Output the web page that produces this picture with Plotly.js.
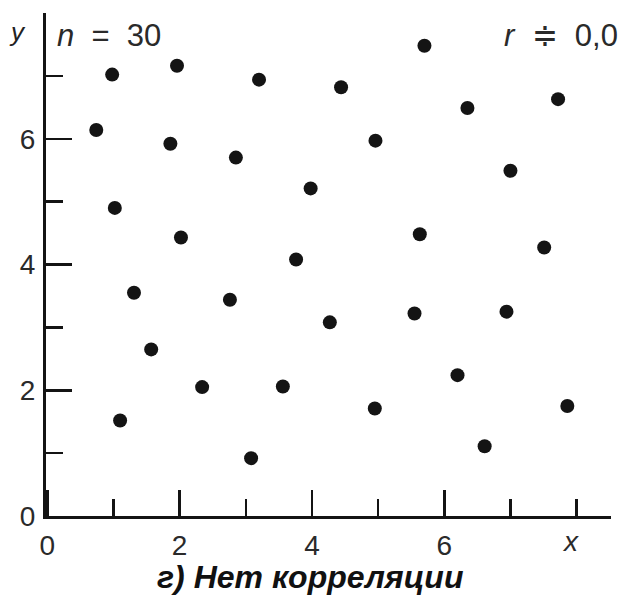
<!DOCTYPE html>
<html>
<head>
<meta charset="utf-8">
<script src="https://cdn.plot.ly/plotly-3.0.1.min.js"></script>
<style>
  html, body { margin: 0; padding: 0; background: #fff; }
  #chart { width: 625px; height: 603px; }
</style>
</head>
<body>
<div id="chart"></div>
<script>
// Data
const xVals = [0.98, 1.96, 3.20, 4.44, 5.70, 6.35, 7.72,
               0.74, 1.86, 2.85, 4.96, 7.00, 3.98,
               1.02, 2.02, 5.63, 7.51, 3.76,
               1.31, 2.76, 4.27, 5.55, 6.94,
               1.57, 2.34, 3.56, 6.20,
               1.10, 4.95, 7.86,
               3.08, 6.61];
const yVals = [7.02, 7.16, 6.94, 6.82, 7.48, 6.49, 6.63,
               6.14, 5.92, 5.70, 5.97, 5.49, 5.21,
               4.90, 4.43, 4.48, 4.27, 4.08,
               3.55, 3.44, 3.08, 3.22, 3.25,
               2.65, 2.05, 2.06, 2.24,
               1.52, 1.71, 1.75,
               0.92, 1.11];
const xTickVals = [0, 2, 4, 6];
const yTickVals = [0, 2, 4, 6];
const xTickText = ['0', '2', '4', '6'];
const yTickText = ['0', '2', '4', '6'];

const ink = '#141414';
const fontFam = '"Liberation Sans", Arial, Helvetica, sans-serif';

const trace = {
  type: 'scatter',
  mode: 'markers',
  x: xVals,
  y: yVals,
  marker: { size: 14, color: ink, line: { width: 0 } },
  hoverinfo: 'x+y'
};

const axisCommon = {
  showgrid: false,
  zeroline: false,
  showline: true,
  linecolor: ink,
  linewidth: 3,
  ticks: 'inside',
  ticklen: 26,
  tickwidth: 2.5,
  tickcolor: ink,
  tickmode: 'array',
  tickfont: { family: fontFam, size: 28, color: '#2a2a2a' },
  minor: { dtick: 1, tick0: 0, ticks: 'inside', ticklen: 17, tickwidth: 2.5, tickcolor: ink, showgrid: false }
};

const layout = {
  width: 625,
  height: 603,
  margin: { l: 46, r: 14, t: 13, b: 87 },
  paper_bgcolor: '#fff',
  plot_bgcolor: '#fff',
  showlegend: false,
  xaxis: Object.assign({}, axisCommon, {
    range: [-0.02, 8.52],
    tickvals: xTickVals,
    ticktext: xTickText,
    ticklabelstandoff: 2
  }),
  yaxis: Object.assign({}, axisCommon, {
    range: [0, 8],
    tickvals: yTickVals,
    ticktext: yTickText,
    ticklabelstandoff: 2
  }),
  annotations: [
    { text: '<i>y</i>', xref: 'paper', yref: 'paper', x: -0.05, y: 0.962,
      xanchor: 'center', yanchor: 'middle', showarrow: false,
      font: { family: fontFam, size: 26, color: '#222' } },
    { text: '<i>n</i>  =  30', xref: 'paper', yref: 'paper', x: 0.016, y: 0.956,
      xanchor: 'left', yanchor: 'middle', showarrow: false,
      font: { family: fontFam, size: 31, color: '#2a2a2a' } },
    { text: '<i>r</i>  ≑  0,0', xref: 'paper', yref: 'paper', x: 1.016, y: 0.956,
      xanchor: 'right', yanchor: 'middle', showarrow: false,
      font: { family: fontFam, size: 31, color: '#2a2a2a' } },
    { text: '<i>x</i>', xref: 'paper', yref: 'paper', x: 0.929, y: -0.05,
      xanchor: 'center', yanchor: 'middle', showarrow: false,
      font: { family: fontFam, size: 28, color: '#2a2a2a' } },
    { text: '<b><i>г) Нет корреляции</i></b>', xref: 'paper', yref: 'paper', x: 0.468, y: -0.122,
      xanchor: 'center', yanchor: 'middle', showarrow: false,
      font: { family: fontFam, size: 32, color: '#111' } }
  ]
};

Plotly.newPlot('chart', [trace], layout, { displayModeBar: false, staticPlot: true });
</script>
</body>
</html>
